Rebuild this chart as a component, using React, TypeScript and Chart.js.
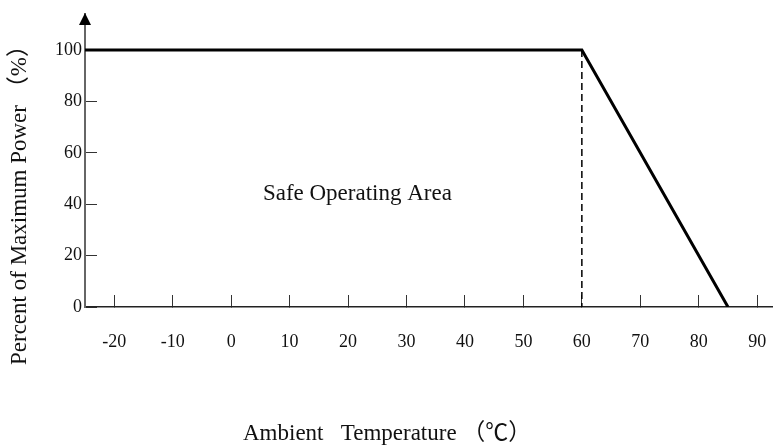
import React, { useEffect, useRef } from 'react';
import { Chart, registerables } from 'chart.js';

Chart.register(...registerables);

// ---- data ----
const CURVE_TEMPS = [-25, 60, 85];
const CURVE_POWER = [100, 100, 0];
const KNEE_TEMPS = [60, 60];
const KNEE_POWER = [100, 0];
const X_TICKS = [-20, -10, 0, 10, 20, 30, 40, 50, 60, 70, 80, 90];
const Y_TICKS = [0, 20, 40, 60, 80, 100];
const X_MIN = -25;
const X_MAX = 92.7;
const Y_MIN = 0;
const Y_MAX = 114;
const AREA_LABEL = 'Safe Operating Area';
const AREA_AT = { x: 21.6, y: 41.6 };
const X_TITLE = 'Ambient   Temperature （℃）';
const Y_TITLE = 'Percent of Maximum Power （%）';

const SERIF = "'Liberation Serif', 'Times New Roman', 'Noto Sans CJK SC', serif";

const decorPlugin = {
  id: 'decor',
  afterDraw(chart: any) {
    const { ctx, chartArea, scales } = chart;
    const xs = scales.x;
    const ys = scales.y;
    ctx.save();
    // arrow on y axis
    const ax = ys.right;
    const tip = chartArea.top - 1;
    ctx.fillStyle = '#000';
    ctx.beginPath();
    ctx.moveTo(ax, tip);
    ctx.lineTo(ax - 6, tip + 12);
    ctx.lineTo(ax + 6, tip + 12);
    ctx.closePath();
    ctx.fill();

    // area label
    ctx.fillStyle = '#111';
    ctx.font = `23px ${SERIF}`;
    ctx.textAlign = 'center';
    ctx.textBaseline = 'alphabetic';
    ctx.fillText(AREA_LABEL, xs.getPixelForValue(AREA_AT.x), ys.getPixelForValue(AREA_AT.y));

    // x title
    ctx.textAlign = 'left';
    ctx.fillText(X_TITLE, chartArea.left + 158, chart.height - 5);

    // y title
    ctx.translate(26, chartArea.bottom + 58);
    ctx.rotate(-Math.PI / 2);
    ctx.textAlign = 'left';
    ctx.fillText(Y_TITLE, 0, 0);
    ctx.restore();
  },
};

export default function App() {
  const ref = useRef<HTMLCanvasElement | null>(null);

  useEffect(() => {
    document.body.style.margin = '0';
    const canvas = ref.current;
    if (!canvas) return;
    const curve = CURVE_TEMPS.map((t, i) => ({ x: t, y: CURVE_POWER[i] }));
    const knee = KNEE_TEMPS.map((t, i) => ({ x: t, y: KNEE_POWER[i] }));
    const tickFont = { family: SERIF, size: 18 };
    const chart = new Chart(canvas, {
      type: 'scatter',
      data: {
        datasets: [
          {
            data: curve,
            showLine: true,
            borderColor: '#000',
            borderWidth: 3,
            pointRadius: 0,
            fill: false,
            tension: 0,
          },
          {
            data: knee,
            showLine: true,
            borderColor: '#000',
            borderWidth: 1.5,
            borderDash: [7, 4],
            pointRadius: 0,
            fill: false,
          },
        ],
      },
      options: {
        responsive: false,
        animation: false,
        devicePixelRatio: 1,
        layout: { padding: { top: 14, right: 0, bottom: 0, left: 0 } },
        plugins: {
          legend: { display: false },
          tooltip: { enabled: false },
        },
        scales: {
          x: {
            type: 'linear',
            min: X_MIN,
            max: X_MAX,
            afterBuildTicks: (s: any) => {
              s.ticks = X_TICKS.map((v) => ({ value: v }));
            },
            afterFit: (s: any) => {
              s.height = 138;
              s.paddingLeft = 0;
              s.paddingRight = 0;
            },
            ticks: {
              font: tickFont,
              color: '#111',
              padding: 36,
              maxRotation: 0,
              autoSkip: false,
              callback: (v: any) => String(v),
            },
            grid: {
              display: true,
              drawOnChartArea: false,
              drawTicks: true,
              tickLength: -12,
              tickWidth: 1,
              tickColor: '#333',
            },
            border: { display: true, color: '#222', width: 1.5 },
          },
          y: {
            type: 'linear',
            min: Y_MIN,
            max: Y_MAX,
            afterBuildTicks: (s: any) => {
              s.ticks = Y_TICKS.map((v) => ({ value: v }));
            },
            afterFit: (s: any) => {
              s.width = 85;
              s.paddingTop = 0;
              s.paddingBottom = 0;
            },
            ticks: {
              font: tickFont,
              color: '#111',
              padding: 15,
              autoSkip: false,
              callback: (v: any) => String(v),
            },
            grid: {
              display: true,
              drawOnChartArea: false,
              drawTicks: true,
              tickLength: -12,
              tickWidth: 1,
              tickColor: '#333',
            },
            border: { display: true, color: '#666', width: 2 },
          },
        },
      },
      plugins: [decorPlugin],
    } as any);
    return () => chart.destroy();
  }, []);

  return (
    <div style={{ width: 773, height: 445, background: '#fff' }}>
      <canvas ref={ref} width={773} height={445} style={{ display: 'block', width: 773, height: 445 }} />
    </div>
  );
}
